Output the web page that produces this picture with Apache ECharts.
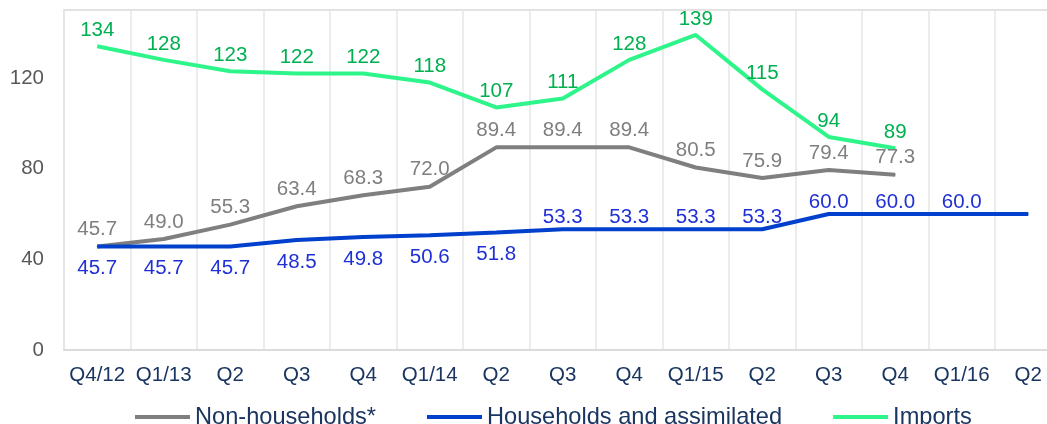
<!DOCTYPE html>
<html>
<head>
<meta charset="utf-8">
<script src="https://cdn.jsdelivr.net/npm/echarts@6/dist/echarts.min.js"></script>
<style>
  html, body { margin: 0; padding: 0; background: #ffffff; }
  #chart { width: 1047px; height: 424px; }
</style>
</head>
<body>
<div id="chart"></div>
<script>
const categories = ['Q4/12', 'Q1/13', 'Q2', 'Q3', 'Q4', 'Q1/14', 'Q2', 'Q3', 'Q4', 'Q1/15', 'Q2', 'Q3', 'Q4', 'Q1/16', 'Q2'];
const nonHouseholds = [45.7, 49.0, 55.3, 63.4, 68.3, 72.0, 89.4, 89.4, 89.4, 80.5, 75.9, 79.4, 77.3, null, null];
const households = [45.7, 45.7, 45.7, 48.5, 49.8, 50.6, 51.8, 53.3, 53.3, 53.3, 53.3, 60.0, 60.0, 60.0, 60.0];
const imports = [134, 128, 123, 122, 122, 118, 107, 111, 128, 139, 115, 94, 89, null, null];
const yTicks = [0, 40, 80, 120];

const FONT = '"Liberation Sans", Arial, sans-serif';
const householdsBelowCount = 7;     // first points labelled below the line
const householdsLabelledCount = 14; // last point has no label

const chart = echarts.init(document.getElementById('chart'), null, { renderer: 'canvas' });

const householdData = households.map((v, i) => ({
  value: v,
  label: i >= householdsLabelledCount ? { show: false } :
    (i < householdsBelowCount ? { show: true, position: 'bottom', distance: 11 } : { show: true, position: 'top', distance: 1 })
}));

const tinySymbol = { symbol: 'circle', symbolSize: 1, showSymbol: true, showAllSymbol: true, labelLayout: { hideOverlap: false } };

chart.setOption({
  animation: false,
  backgroundColor: '#ffffff',
  textStyle: { fontFamily: FONT },
  grid: {
    left: 64, top: 10, width: 997.5, height: 340,
    outerBoundsMode: 'none', containLabel: false,
    show: true, borderColor: '#d9d9d9', borderWidth: 1.5
  },
  legend: {
    left: 130, top: 400,
    itemWidth: 55, itemHeight: 4, itemGap: 51,
    icon: 'rect',
    textStyle: { fontFamily: FONT, fontSize: 23.6, color: '#1a3560' },
    data: ['Non-households*', 'Households and assimilated', 'Imports']
  },
  xAxis: {
    type: 'category',
    data: categories,
    boundaryGap: true,
    axisLine: { show: true, lineStyle: { color: '#d9d9d9', width: 1.5 } },
    axisTick: { show: false },
    axisLabel: { fontFamily: FONT, fontSize: 20.5, color: '#1a3560', margin: 15, interval: 0 },
    splitLine: { show: true, interval: 0, lineStyle: { color: '#e6e6e6', width: 1.5 } }
  },
  yAxis: {
    type: 'value',
    min: yTicks[0], max: 150, interval: yTicks[1] - yTicks[0],
    axisLine: { show: false },
    axisTick: { show: false },
    splitLine: { show: false },
    axisLabel: { fontFamily: FONT, fontSize: 20.5, color: '#595959', margin: 20, showMaxLabel: false }
  },
  series: [
    Object.assign({
      name: 'Non-households*', type: 'line', data: nonHouseholds,
      lineStyle: { color: '#7f7f7f', width: 4 }, itemStyle: { color: '#7f7f7f' },
      label: { show: true, position: 'top', distance: 6, offset: [8, 0], fontFamily: FONT, fontSize: 20.5, color: '#7f7f7f', formatter: p => Number(p.value).toFixed(1) }
    }, tinySymbol),
    Object.assign({
      name: 'Households and assimilated', type: 'line', data: householdData,
      lineStyle: { color: '#0040cc', width: 4 }, itemStyle: { color: '#0040cc' },
      label: { show: true, offset: [7, 0], fontFamily: FONT, fontSize: 20.5, color: '#1f30d4', formatter: p => Number(p.value).toFixed(1) }
    }, tinySymbol),
    Object.assign({
      name: 'Imports', type: 'line', data: imports,
      lineStyle: { color: '#2ef58a', width: 4 }, itemStyle: { color: '#2ef58a' },
      label: { show: true, position: 'top', distance: 5, offset: [10, 0], fontFamily: FONT, fontSize: 20.5, color: '#00b050', formatter: p => String(p.value) }
    }, tinySymbol)
  ]
});
</script>
</body>
</html>
